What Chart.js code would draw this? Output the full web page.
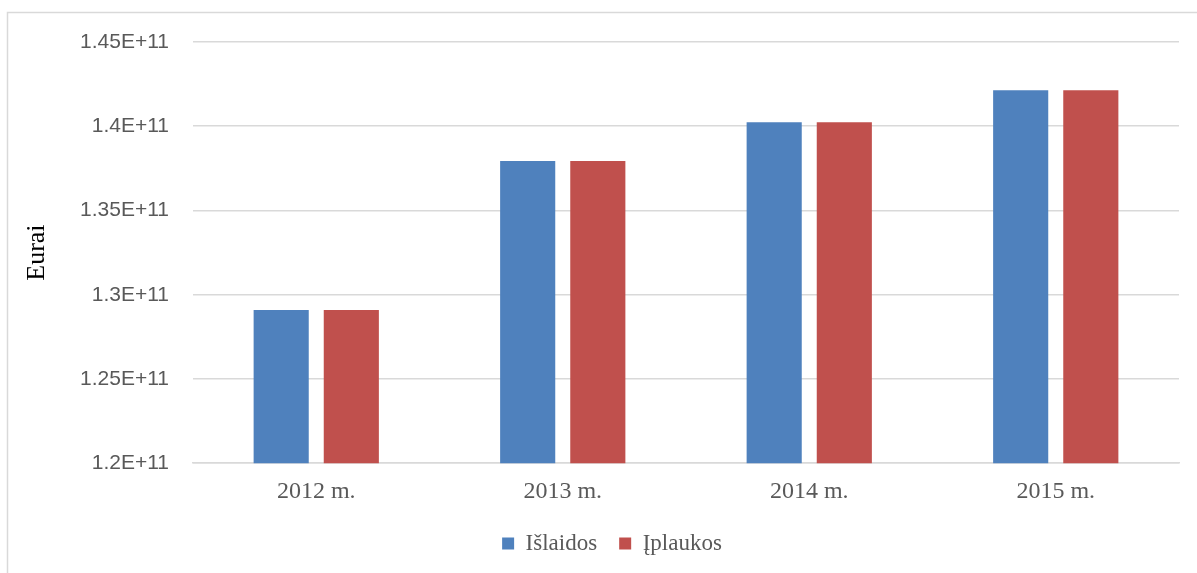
<!DOCTYPE html>
<html>
<head>
<meta charset="utf-8">
<script src="https://cdn.jsdelivr.net/npm/chart.js@4/dist/chart.umd.min.js"></script>
<style>
  html, body { margin: 0; padding: 0; background: #fff; }
  #wrap { position: relative; width: 1197px; height: 573px; }
</style>
</head>
<body>
<div id="wrap"><canvas id="c" width="1197" height="573"></canvas></div>
<script>
// Budget by year, euros
const categories = ['2012 m.', '2013 m.', '2014 m.', '2015 m.'];
const islaidos = [1.2909e11, 1.3793e11, 1.4024e11, 1.4214e11];
const iplaukos = [1.2909e11, 1.3793e11, 1.4024e11, 1.4214e11];
const seriesNames = ['Išlaidos', 'Įplaukos'];
const yMin = 1.2e11, yMax = 1.45e11, yStep = 5e9;

// Light frame along the top and left edge of the chart
const framePlugin = {
  id: 'frame',
  beforeDraw(chart) {
    const ctx = chart.ctx;
    ctx.save();
    ctx.strokeStyle = '#D9D9D9';
    ctx.lineWidth = 1.5;
    ctx.beginPath();
    ctx.moveTo(7.5, 573);
    ctx.lineTo(7.5, 12.5);
    ctx.lineTo(1197, 12.5);
    ctx.stroke();
    ctx.restore();
  }
};

new Chart(document.getElementById('c'), {
  type: 'bar',
  data: {
    labels: categories,
    datasets: [
      { label: seriesNames[0], data: islaidos, backgroundColor: '#4F81BD' },
      { label: seriesNames[1], data: iplaukos, backgroundColor: '#C0504D' }
    ]
  },
  options: {
    responsive: false,
    animation: false,
    devicePixelRatio: 1,
    categoryPercentage: 0.569,
    barPercentage: 0.786,
    layout: { padding: { left: 45, right: 18, top: 42, bottom: 8 } },
    plugins: {
      legend: {
        position: 'bottom',
        labels: {
          boxWidth: 12,
          boxHeight: 12,
          padding: 22,
          color: '#595959',
          font: { family: 'Liberation Serif', size: 23 }
        }
      },
      tooltip: { enabled: false }
    },
    scales: {
      x: {
        afterFit(scale) { scale.height -= 10; },
        grid: { display: false, drawTicks: false },
        border: { display: true, color: '#D9D9D9', width: 1.5 },
        ticks: {
          color: '#595959',
          padding: 14,
          font: { family: 'Liberation Serif', size: 24 }
        }
      },
      y: {
        min: yMin,
        max: yMax,
        afterFit(scale) { scale.width = 148; },
        grid: { color: '#D9D9D9', lineWidth: 1.5, drawTicks: false },
        border: { display: false },
        title: {
          display: true,
          text: 'Eurai',
          color: '#000',
          padding: { top: -23, bottom: 0 },
          font: { family: 'Liberation Serif', size: 26 }
        },
        ticks: {
          stepSize: yStep,
          padding: 24,
          color: '#595959',
          font: { family: 'Liberation Sans', size: 21 },
          callback: v => v.toExponential().toUpperCase()
        }
      }
    }
  },
  plugins: [framePlugin]
});
</script>
</body>
</html>
